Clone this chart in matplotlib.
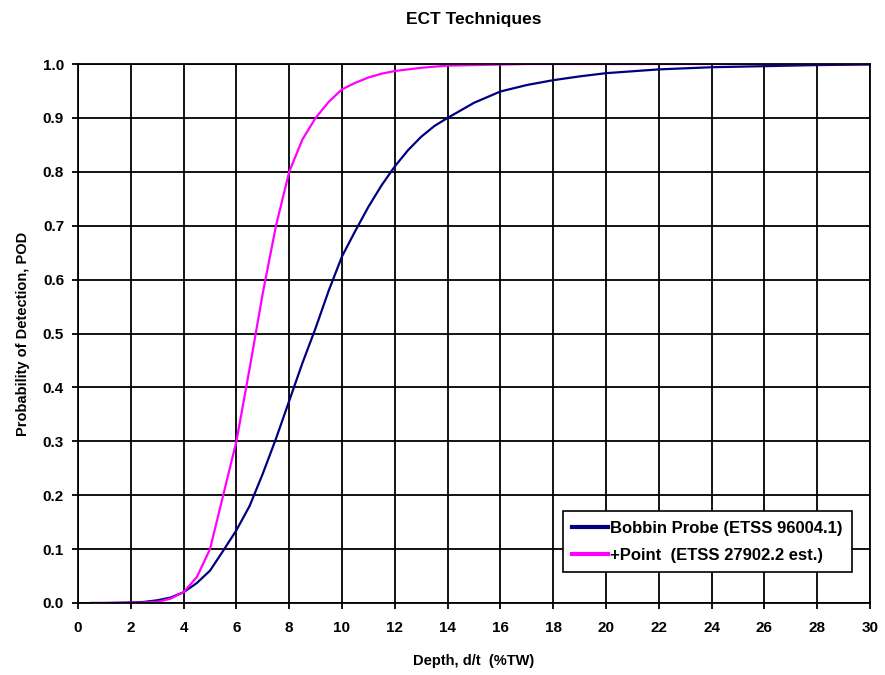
import matplotlib.pyplot as plt

plt.rcParams['font.family'] = ['Liberation Sans', 'DejaVu Sans']
plt.rcParams['font.weight'] = 'bold'

# depth (%TW) and POD for each probe
depth = [0.5, 1, 1.5, 2, 2.5, 3, 3.5, 4, 4.5, 5, 5.5, 6, 6.5, 7, 7.5, 8, 8.5, 9, 9.5,
         10, 10.5, 11, 11.5, 12, 12.5, 13, 13.5, 14, 15, 16, 17, 18, 19, 20, 22, 24, 26, 28, 30]
bobbin = [0.0, 0.0, 0.0005, 0.001, 0.002, 0.005, 0.01, 0.02, 0.037, 0.06, 0.097, 0.135,
          0.18, 0.24, 0.305, 0.375, 0.445, 0.51, 0.58, 0.643, 0.69, 0.735, 0.775, 0.81,
          0.84, 0.865, 0.885, 0.90, 0.928, 0.949, 0.961, 0.97, 0.977, 0.983, 0.99, 0.994,
          0.996, 0.998, 0.999]
plus_point = [0.0, 0.0, 0.0, 0.0003, 0.001, 0.002, 0.008, 0.02, 0.048, 0.10, 0.20, 0.30,
              0.435, 0.575, 0.70, 0.80, 0.86, 0.90, 0.93, 0.953, 0.965, 0.975, 0.982, 0.987,
              0.99, 0.993, 0.995, 0.997, 0.998, 0.999, 1.0, 1.0, 1.0, 1.0, 1.0, 1.0, 1.0,
              1.0, 1.0]

fig = plt.figure(figsize=(8.85, 6.75), dpi=100)
ax = fig.add_axes([78 / 885, 72 / 675, 792 / 885, 539 / 675])

ax.plot(depth, bobbin, color='#000080', lw=1.6, label='Bobbin Probe (ETSS 96004.1)')
ax.plot(depth, plus_point, color='#ff00ff', lw=1.6, label='+Point  (ETSS 27902.2 est.)')

ax.set_xlim(0, 30)
ax.set_ylim(0, 1.0)
ax.set_xticks(range(0, 31, 2))
ax.set_yticks([i / 10 for i in range(11)])
ax.set_yticklabels([f'{i / 10:.1f}' for i in range(11)])
ax.grid(True, color='black', lw=1.3)
ax.tick_params(labelsize=11, length=4, width=1.3, color='black')
ax.tick_params(axis='x', pad=9)
ax.tick_params(axis='y', pad=6)
for s in ax.spines.values():
    s.set_color('black')
    s.set_linewidth(1.3)

ax.set_xlabel('Depth, d/t  (%TW)', fontsize=10.5, fontweight='bold', labelpad=14)
ax.set_ylabel('Probability of Detection, POD', fontsize=10.5, fontweight='bold', labelpad=9)
ax.set_title('ECT Techniques', fontsize=12.5, fontweight='bold', pad=29)

leg = ax.legend(loc='lower right', bbox_to_anchor=(0.977, 0.057), fontsize=12,
                fancybox=False, framealpha=1, edgecolor='black', handlelength=2.2,
                handletextpad=0.1, borderpad=0.55, labelspacing=0.75, borderaxespad=0)
leg.get_frame().set_linewidth(1.2)
for line in leg.get_lines():
    line.set_linewidth(3)

fig.savefig('out.png', dpi=100)
